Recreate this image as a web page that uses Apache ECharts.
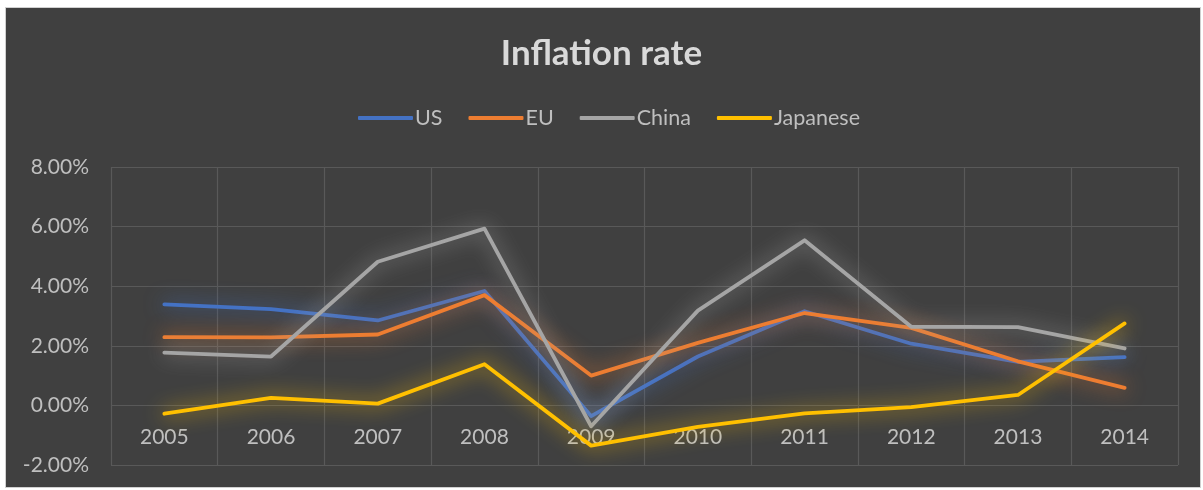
<!DOCTYPE html>
<html>
<head>
<meta charset="utf-8">
<script src="https://cdn.jsdelivr.net/npm/echarts@6/dist/echarts.min.js"></script>
<style>
html,body{margin:0;padding:0;background:#fff;}
#wrap{position:absolute;left:5px;top:7px;width:1196px;height:481px;background:#404040;border:1px solid #d0d0d0;box-sizing:border-box;}
#c{position:absolute;left:0;top:0;width:1203px;height:490px;}
</style>
</head>
<body>
<div id="wrap"></div>
<div id="c"></div>
<script>
const years = ['2005','2006','2007','2008','2009','2010','2011','2012','2013','2014'];
const us = [3.39, 3.23, 2.85, 3.84, -0.36, 1.64, 3.16, 2.07, 1.46, 1.62];
const eu = [2.29, 2.28, 2.38, 3.70, 1.00, 2.10, 3.10, 2.60, 1.48, 0.59];
const china = [1.77, 1.64, 4.82, 5.93, -0.70, 3.18, 5.54, 2.64, 2.63, 1.91];
const japan = [-0.28, 0.25, 0.06, 1.38, -1.35, -0.72, -0.27, -0.06, 0.35, 2.75];
const seriesNames = ['US','EU','China','Japanese'];
const colors = ['#4472C4','#ED7D31','#A5A5A5','#FFC000'];
const dataSets = [us, eu, china, japan];

const FONT = 'Lato';
const GRID_H = 298, Y_MIN = -2, Y_MAX = 8;
const chart = echarts.init(document.getElementById('c'), null, {renderer:'canvas'});
chart.setOption({
  backgroundColor: 'transparent',
  animation: false,
  title: {
    text: 'Inflation rate', left: 'center', top: 31,
    textStyle: {color:'#D9D9D9', fontSize: 35, fontWeight: 'bold', fontFamily: FONT}
  },
  legend: {
    top: 102, left: 353, itemWidth: 55, itemHeight: 4, itemGap: 26,
    textStyle: {color:'#BFBFBF', fontSize: 21.5, fontFamily: FONT, padding:[0,0,0,-3]},
    data: seriesNames.map((n,i)=>({name:n, icon:'roundRect', itemStyle:{color:colors[i]}}))
  },
  grid: {left: 111, right: 25, top: 167, height: GRID_H, containLabel: false, outerBoundsMode: 'none'},
  xAxis: {
    type: 'category', data: years, boundaryGap: true,
    offset: -GRID_H * (0 - Y_MIN) / (Y_MAX - Y_MIN),
    axisLine: {show: false, onZero: false},
    axisTick: {show: false},
    axisLabel: {color:'#BFBFBF', fontSize: 21, fontFamily: FONT, margin: 21},
    splitLine: {show: true, lineStyle: {color:'#595959', width: 1.2}}
  },
  yAxis: {
    type: 'value', min: Y_MIN, max: Y_MAX, interval: 2,
    axisLine: {show:false}, axisTick:{show:false},
    axisLabel: {color:'#BFBFBF', fontSize: 21, fontFamily: FONT, margin: 22,
      formatter: v => v.toFixed(2) + '%'},
    splitLine: {lineStyle: {color:'#595959', width: 1.2}}
  },
  series: dataSets.map((d,i)=>({
    name: seriesNames[i], type: 'line', data: d, symbol: 'none',
    lineStyle: {color: colors[i], width: 3.8, cap:'round', join:'round',
      shadowColor: colors[i], shadowBlur: 20},
    itemStyle: {color: colors[i]}
  }))
});
</script>
</body>
</html>
